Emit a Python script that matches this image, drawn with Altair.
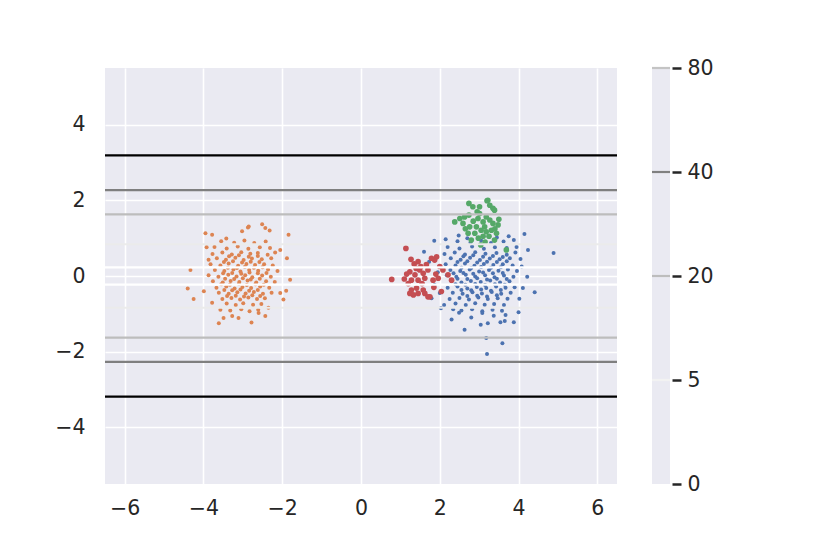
import altair as alt
import pandas as pd

# ---------------- data ----------------
x_ticks = [-6, -4, -2, 0, 2, 4, 6]
y_ticks = [-4, -2, 0, 2, 4]

levels = ["0", "5", "20", "40", "80"]
level_y = [0.23, 0.84, 1.63, 2.27, 3.19]
level_colors = ["#ffffff", "#ebebeb", "#bdbdbd", "#7f7f7f", "#000000"]
cbar_levels = ["5", "20", "40", "80"]
cbar_colors = ["#f2f2f2", "#bdbdbd", "#808080", "#c4c4c4"]

series_names = ["blue", "orange", "green", "red"]
series_colors = ["#4c72b0", "#dd8452", "#55a868", "#c44e52"]
series_sizes = [16, 16, 32, 32]

blue_xy = [
    (2.45, 0.92), (2.78, 0.88), (3.05, 0.94), (3.3, 0.87), (3.62, 0.91), (3.88, 0.95),
    (2.2, 0.77), (2.5, 0.73), (2.82, 0.78), (3.12, 0.72), (3.4, 0.76), (3.7, 0.74), (3.95, 0.77),
    (2.12, 0.58), (2.38, 0.62), (2.64, 0.57), (2.9, 0.63), (3.16, 0.59), (3.44, 0.61), (3.7, 0.56), (3.92, 0.62),
    (2.28, 0.47), (2.53, 0.43), (2.77, 0.48), (3.02, 0.42), (3.27, 0.46), (3.52, 0.44), (3.78, 0.47),
    (2.15, 0.31), (2.4, 0.28), (2.64, 0.33), (2.88, 0.27), (3.12, 0.32), (3.36, 0.29), (3.6, 0.31), (3.85, 0.28),
    (2.27, 0.16), (2.52, 0.13), (2.76, 0.17), (3.0, 0.12), (3.25, 0.16), (3.49, 0.14), (3.73, 0.17), (3.96, 0.13),
    (2.18, 0.02), (2.42, -0.02), (2.66, 0.03), (2.9, -0.01), (3.15, 0.02), (3.39, -0.03), (3.63, 0.01), (3.87, -0.02),
    (2.3, -0.14), (2.55, -0.17), (2.79, -0.13), (3.04, -0.16), (3.28, -0.12), (3.53, -0.17), (3.77, -0.14),
    (2.2, -0.31), (2.45, -0.28), (2.7, -0.33), (2.94, -0.29), (3.18, -0.32), (3.43, -0.28), (3.67, -0.31), (3.9, -0.3),
    (2.33, -0.44), (2.58, -0.47), (2.83, -0.43), (3.07, -0.46), (3.32, -0.42), (3.56, -0.47), (3.8, -0.44),
    (2.25, -0.61), (2.5, -0.58), (2.74, -0.62), (2.98, -0.57), (3.22, -0.61), (3.47, -0.59), (3.72, -0.6),
    (2.4, -0.73), (2.66, -0.77), (2.9, -0.72), (3.14, -0.76), (3.38, -0.74), (3.63, -0.77),
    (2.55, -0.91), (2.82, -0.88), (3.08, -0.93), (3.34, -0.89), (3.58, -0.92),
    (2.6, 0.52), (2.85, 0.55), (3.1, 0.51), (3.35, 0.53), (3.6, 0.5),
    (2.45, 0.37), (2.7, 0.39), (2.95, 0.36), (3.2, 0.38), (3.45, 0.37), (3.7, 0.39),
    (2.55, 0.22), (2.8, 0.21), (3.05, 0.24), (3.3, 0.22), (3.55, 0.23),
    (2.35, 0.07), (2.6, 0.08), (2.85, 0.06), (3.1, 0.09), (3.35, 0.07), (3.6, 0.08),
    (2.45, -0.07), (2.7, -0.08), (2.95, -0.06), (3.2, -0.09), (3.45, -0.07), (3.7, -0.08),
    (2.4, -0.22), (2.65, -0.23), (2.9, -0.21), (3.15, -0.24), (3.4, -0.22), (3.65, -0.23),
    (2.55, -0.37), (2.8, -0.38), (3.05, -0.36), (3.3, -0.39), (3.55, -0.37),
    (2.7, -0.53), (2.95, -0.52), (3.2, -0.54), (3.45, -0.51),
    (4.89, 0.61), (4.15, 1.11), (4.24, 0.69), (4.22, -0.02), (4.41, -0.43), (4.11, -0.32),
    (4.0, -0.96), (3.88, -1.22), (3.65, -1.19), (3.54, -1.22), (3.67, -1.03), (3.22, -1.25),
    (3.04, -1.29), (3.37, -1.05), (3.08, -0.98), (3.18, -1.64), (3.59, -1.78), (3.2, -2.06),
    (2.63, -1.42), (2.49, -0.97), (2.34, -0.88), (2.11, -0.77), (2.03, -0.85), (1.79, -0.59),
    (1.87, -0.24), (1.73, 0.38), (1.6, 0.64), (1.86, 0.93), (2.15, 0.97), (2.48, 1.07),
    (2.7, 1.0), (3.45, 1.02), (3.75, 1.05), (4.05, 0.45), (4.08, 0.25), (4.02, -0.6),
    (2.8, -1.1), (2.3, -1.15), (1.95, 0.1), (2.0, -0.45),
]

orange_xy = [
    (-3.55, 0.92), (-3.22, 0.88), (-2.96, 0.94), (-2.71, 0.87), (-2.42, 0.91),
    (-3.72, 0.77), (-3.41, 0.73), (-3.13, 0.78), (-2.86, 0.72), (-2.57, 0.76), (-2.31, 0.74),
    (-3.77, 0.58), (-3.52, 0.62), (-3.28, 0.57), (-3.04, 0.63), (-2.81, 0.59), (-2.62, 0.61), (-2.37, 0.56), (-2.18, 0.62),
    (-3.66, 0.47), (-3.43, 0.43), (-3.19, 0.48), (-2.98, 0.42), (-2.77, 0.46), (-2.52, 0.44), (-2.28, 0.47),
    (-3.82, 0.31), (-3.57, 0.28), (-3.36, 0.33), (-3.12, 0.27), (-2.91, 0.32), (-2.69, 0.29), (-2.46, 0.31), (-2.24, 0.28),
    (-3.71, 0.16), (-3.47, 0.13), (-3.24, 0.17), (-3.06, 0.12), (-2.84, 0.16), (-2.61, 0.14), (-2.36, 0.17), (-2.12, 0.13),
    (-3.87, 0.02), (-3.62, -0.02), (-3.37, 0.03), (-3.16, -0.01), (-2.94, 0.02), (-2.76, -0.03), (-2.51, 0.01), (-2.29, -0.02),
    (-3.76, -0.14), (-3.51, -0.17), (-3.31, -0.13), (-3.09, -0.16), (-2.88, -0.12), (-2.66, -0.17), (-2.41, -0.14), (-2.19, -0.16),
    (-3.67, -0.31), (-3.42, -0.28), (-3.21, -0.33), (-3.01, -0.29), (-2.79, -0.32), (-2.56, -0.28), (-2.33, -0.31),
    (-3.61, -0.44), (-3.36, -0.47), (-3.14, -0.43), (-2.93, -0.46), (-2.72, -0.42), (-2.49, -0.47), (-2.27, -0.44),
    (-3.52, -0.61), (-3.29, -0.58), (-3.07, -0.62), (-2.86, -0.57), (-2.64, -0.61), (-2.44, -0.59),
    (-3.41, -0.73), (-3.18, -0.77), (-2.99, -0.72), (-2.74, -0.76), (-2.53, -0.74),
    (-3.32, -0.91), (-3.04, -0.88), (-2.83, -0.93), (-2.61, -0.89),
    (-3.35, 0.52), (-3.1, 0.55), (-2.85, 0.51), (-2.62, 0.53),
    (-3.48, 0.37), (-3.25, 0.39), (-3.02, 0.36), (-2.8, 0.38), (-2.58, 0.37),
    (-3.38, 0.22), (-3.15, 0.21), (-2.95, 0.24), (-2.72, 0.22), (-2.5, 0.23),
    (-3.5, 0.07), (-3.27, 0.08), (-3.04, 0.06), (-2.83, 0.09), (-2.62, 0.07), (-2.4, 0.08),
    (-3.45, -0.07), (-3.22, -0.08), (-3.0, -0.06), (-2.8, -0.09), (-2.57, -0.07),
    (-3.55, -0.22), (-3.33, -0.23), (-3.1, -0.21), (-2.9, -0.24), (-2.68, -0.22), (-2.47, -0.23),
    (-3.47, -0.37), (-3.27, -0.38), (-3.06, -0.36), (-2.84, -0.39), (-2.62, -0.37),
    (-3.4, -0.53), (-3.18, -0.52), (-2.97, -0.54), (-2.76, -0.51), (-2.56, -0.53),
    (-3.95, 1.13), (-3.78, 1.09), (-3.42, 0.99), (-2.87, 1.28), (-2.51, 1.37), (-2.43, 1.27),
    (-2.32, 1.2), (-1.84, 1.09), (-4.33, 0.16), (-4.4, -0.33), (-4.25, -0.61), (-3.61, -1.25),
    (-2.78, -1.23), (-1.9, -0.39), (-1.88, 0.47), (-3.92, 0.76), (-3.02, 1.18), (-2.85, 1.31),
    (-3.11, -1.11), (-3.27, -1.06), (-1.8, -0.1), (-2.05, 0.69), (-3.87, 0.43), (-3.99, -0.4),
    (-3.78, -0.71), (-3.57, -0.89), (-2.6, -0.98), (-2.35, -0.84), (-2.05, -0.45), (-1.97, -0.62),
    (-3.49, -1.11), (-2.43, -1.06),
]

green_xy = [
    (2.74, 1.92), (2.84, 1.83), (3.01, 1.83), (3.2, 1.99), (3.27, 1.87), (3.39, 1.74),
    (2.38, 1.43), (2.51, 1.52), (2.63, 1.56), (2.74, 1.61), (2.76, 1.3), (2.89, 1.13),
    (2.93, 1.3), (2.97, 1.52), (3.1, 1.43), (3.18, 1.56), (3.27, 1.48), (3.35, 1.39),
    (3.48, 1.35), (3.31, 1.21), (3.18, 1.17), (3.44, 1.13), (3.39, 0.95), (3.05, 1.21),
    (2.8, 0.95), (3.69, 0.69), (3.01, 1.65), (2.72, 1.13), (3.14, 1.3), (2.59, 1.39),
    (3.04, 0.82), (3.22, 2.0), (3.35, 1.79), (2.85, 1.45), (3.1, 1.05), (2.95, 1.7),
    (3.25, 1.05), (2.65, 1.25), (3.5, 1.5), (3.4, 1.25), (2.98, 1.0), (3.15, 0.9),
]

red_xy = [
    (0.78, -0.09), (1.14, 0.73), (1.27, 0.44), (1.45, 0.38), (1.49, 0.16), (1.24, 0.11),
    (1.37, 0.03), (1.28, -0.11), (1.45, -0.11), (1.62, -0.06), (1.58, 0.07), (1.7, 0.16),
    (1.87, 0.42), (1.92, 0.51), (1.79, 0.47), (2.0, 0.25), (2.08, 0.16), (2.21, 0.03),
    (2.3, -0.11), (1.96, -0.06), (1.83, -0.11), (1.28, -0.37), (1.41, -0.32), (1.33, -0.5),
    (1.45, -0.46), (1.62, -0.46), (1.7, -0.55), (1.58, -0.37), (1.24, -0.46), (2.04, -0.41),
    (1.75, -0.55), (1.16, 0.05), (1.52, 0.25), (1.66, 0.3), (1.4, 0.2), (1.55, -0.2),
    (1.2, -0.2), (1.85, -0.3), (1.1, -0.08), (1.35, 0.32), (1.9, 0.05),
]

# ---------------- tables ----------------
all_series = [blue_xy, orange_xy, green_xy, red_xy]

xs = alt.Scale(domain=[-6.5, 6.5], nice=False, zero=False)
ys = alt.Scale(domain=[-5.5, 5.5], nice=False, zero=False)

FONT = "DejaVu Sans"
TXT = "#262626"
FS = 20.5

x_axis = alt.Axis(values=x_ticks, grid=True, gridColor="white", gridWidth=1.6,
                  domain=False, ticks=False, labelFontSize=FS, labelColor=TXT,
                  labelFont=FONT, labelPadding=14, title=None, labelFlush=False)
y_axis = alt.Axis(values=y_ticks, grid=True, gridColor="white", gridWidth=1.6,
                  domain=False, ticks=False, labelFontSize=FS, labelColor=TXT,
                  labelFont=FONT, labelPadding=20, title=None, labelFlush=False)

layers = []
for i, (name, pts) in enumerate(zip(series_names, all_series)):
    df = pd.DataFrame(pts, columns=["x", "y"])
    layers.append(
        alt.Chart(df).mark_circle(size=series_sizes[i], color=series_colors[i], opacity=1)
        .encode(x=alt.X("x:Q", scale=xs, axis=x_axis),
                y=alt.Y("y:Q", scale=ys, axis=y_axis))
    )

rows = []
for lv, yv in zip(levels, level_y):
    rows.append({"level": lv, "y": yv})
    rows.append({"level": lv, "y": -yv})
lines_df = pd.DataFrame(rows)
lines = alt.Chart(lines_df).mark_rule(strokeWidth=2.2).encode(
    y=alt.Y("y:Q", scale=ys, axis=y_axis),
    color=alt.Color("level:N", scale=alt.Scale(domain=levels, range=level_colors), legend=None),
)

main = alt.layer(*layers, lines).properties(width=512, height=416)

cb_df = pd.DataFrame({"cb": cbar_levels})
cbar = alt.Chart(cb_df).mark_rule(strokeWidth=2.2).encode(
    y=alt.Y("cb:O",
            scale=alt.Scale(domain=list(reversed(levels)), type="point", padding=0),
            axis=alt.Axis(orient="right", title=None, grid=False, domain=False,
                          ticks=True, tickSize=9, tickWidth=2.5, tickColor=TXT,
                          labelFontSize=FS, labelColor=TXT, labelFont=FONT,
                          labelPadding=6, offset=2, labelAngle=0)),
    color=alt.Color("cb:N", scale=alt.Scale(domain=cbar_levels, range=cbar_colors), legend=None),
).properties(width=18, height=416)

chart = alt.hconcat(main, cbar, spacing=31).resolve_scale(
    color="independent", y="independent"
).properties(
    padding={"left": 46, "top": 50, "right": 5, "bottom": 5}
).configure_view(fill="#eaeaf2", stroke=None)

chart.save("out.html", embed_options={"renderer": "svg", "actions": False})
